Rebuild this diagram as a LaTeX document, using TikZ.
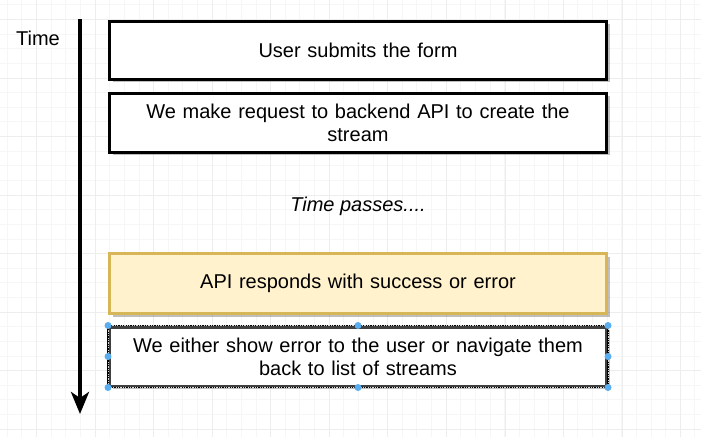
\documentclass[tikz,border=0pt]{standalone}
\usepackage{fontspec}
\setmainfont{Liberation Sans}
\usetikzlibrary{arrows.meta,shadows}
\definecolor{gridminor}{HTML}{F6F6F6}
\definecolor{gridmajor}{HTML}{EDEDED}
\definecolor{ylwfill}{HTML}{FFF2CC}
\definecolor{ylwdraw}{HTML}{D6B656}
\definecolor{handle}{HTML}{5AAEF0}
\tikzset{
  stepbox/.style={draw=black, line width=3pt, fill=white, minimum width=497pt,
    minimum height=58pt, inner sep=0pt, align=center, text width=490pt,
    font=\fontsize{20}{23}\selectfont,
    drop shadow={shadow xshift=3pt, shadow yshift=-3pt, fill=black, opacity=0.25}},
  yellowbox/.style={stepbox, draw=ylwdraw, fill=ylwfill},
  selbox/.style={stepbox, draw=black!75},
  hdl/.style={circle, fill=handle, inner sep=0pt, minimum size=7pt},
}
\begin{document}
\begin{tikzpicture}[x=1pt, y=-1pt]
\useasboundingbox (0,0) rectangle (701,437);
\fill[white] (0,0) rectangle (701,437);
% grid
\foreach \i in {0,...,47} \draw[gridminor, line width=0.7pt] (7.2+\i*14.63,0) -- (7.2+\i*14.63,437);
\foreach \i in {0,...,30} \draw[gridminor, line width=0.7pt] (0,4.8+\i*14.63) -- (701,4.8+\i*14.63);
\foreach \i in {0,...,11} \draw[gridmajor, line width=0.7pt] (36.7+\i*58.52,0) -- (36.7+\i*58.52,437);
\foreach \i in {0,...,7} \draw[gridmajor, line width=0.7pt] (0,19.5+\i*58.52) -- (701,19.5+\i*58.52);

% time axis
\node[font=\fontsize{20}{23}\selectfont] (timelbl) at (38,38) {Time};
\coordinate (tstart) at (80,19);
\coordinate (tend) at (80,414);
\draw[line width=4pt, -{Stealth[length=22pt,width=18pt,inset=6pt]}] (tstart) -- (tend);

% boxes
\node[stepbox] (submit) at (358,50) {User submits the form};
\node[stepbox, minimum height=59pt] (request) at (358,122.5) {We make request to backend API to create the\\stream};
\node[font=\fontsize{20}{23}\selectfont\itshape] (passes) at (358,206) {Time passes....};
\node[yellowbox, minimum height=60pt] (responds) at (358,283.5) {API responds with success or error};
\node[selbox, minimum height=59pt] (either) at (358,356.5) {We either show error to the user or navigate them\\back to list of streams};
\draw[black, line width=1.6pt] (either.north west) rectangle (either.south east);
\draw[white!70!gray, line width=0.8pt, dash pattern=on 1.2pt off 1.2pt] (either.north west) rectangle (either.south east);

% selection handles
\foreach \a in {north west,north,north east,west,east,south west,south,south east}
  \node[hdl] at (either.\a) {};
\end{tikzpicture}
\end{document}
